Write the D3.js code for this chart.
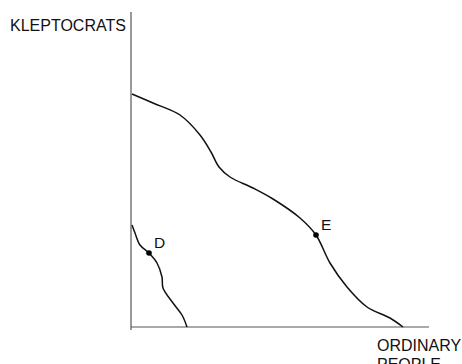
<!DOCTYPE html>
<html><head><meta charset="utf-8">
<script src="https://cdn.jsdelivr.net/npm/d3@7"></script>
<style>html,body{margin:0;padding:0;background:#fff;}svg{display:block;font-family:"Liberation Sans",Arial,sans-serif;}</style>
</head><body>
<script>
// Data (x = ordinary people, y = kleptocrats), arbitrary units
const curveE = [[1,233],[22,224],[49,212],[69,192],[80,175],[88,160],[99,150],[122,139],[142,128],[169,109],[185,92],[199,64],[216,40],[236,20],[259,9],[272,0]];
const curveD = [[1,102],[4,94],[9,82],[18,74],[26,64],[31,50],[32,39],[42,24],[51,12],[56,0]];
const points = [{label:"D", x:18, y:74},{label:"E", x:185, y:92}];
const axisLabels = {y:"KLEPTOCRATS", x:["ORDINARY","PEOPLE"]};

const W=462,H=364;
const svg=d3.select("body").append("svg").attr("width",W).attr("height",H);
const x=d3.scaleLinear().domain([0,300]).range([131,431]);
const y=d3.scaleLinear().domain([0,315]).range([327,12]);

// axes
svg.append("line").attr("x1",x(0)).attr("x2",x(0)).attr("y1",y(315)).attr("y2",y(-3))
  .attr("stroke","#555").attr("stroke-width",1.2);
svg.append("line").attr("x1",x(0)).attr("x2",x(298)).attr("y1",y(0)).attr("y2",y(0))
  .attr("stroke","#555").attr("stroke-width",1.2);

const line=d3.line().x(d=>x(d[0])).y(d=>y(d[1])).curve(d3.curveCatmullRom.alpha(0.5));
[curveE,curveD].forEach(c=>{
  svg.append("path").attr("d",line(c)).attr("fill","none").attr("stroke","#111").attr("stroke-width",1.5);
});

svg.selectAll("circle.pt").data(points).enter().append("circle")
  .attr("cx",d=>x(d.x)).attr("cy",d=>y(d.y)).attr("r",2.8).attr("fill","#000");
svg.selectAll("text.pt").data(points).enter().append("text")
  .attr("x",d=>x(d.x)+5).attr("y",d=>y(d.y)-5)
  .attr("font-size",15.5).attr("fill","#111").text(d=>d.label);

svg.append("text").attr("x",10).attr("y",31).attr("font-size",16).attr("fill","#111").text(axisLabels.y);
svg.append("text").attr("x",377).attr("y",351).attr("font-size",16).attr("fill","#111").text(axisLabels.x[0]);
svg.append("text").attr("x",377).attr("y",370).attr("font-size",16).attr("fill","#111").text(axisLabels.x[1]);
</script>
</body></html>
